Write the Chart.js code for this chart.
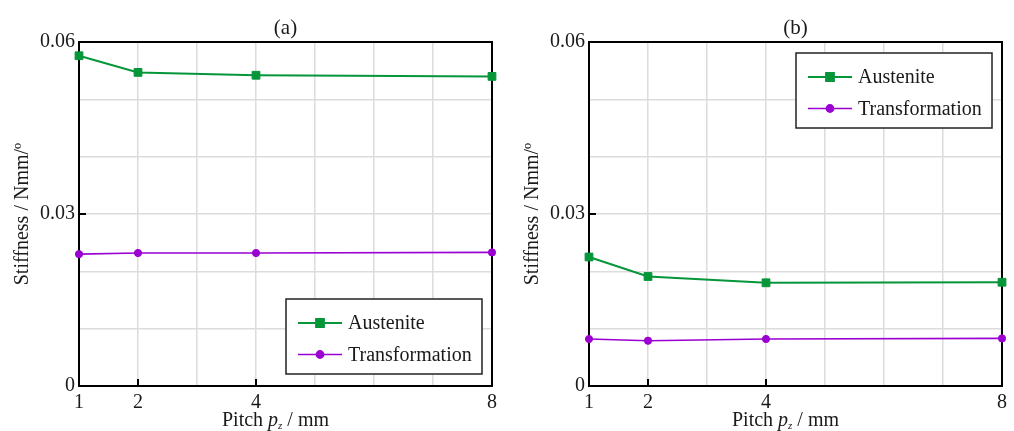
<!DOCTYPE html>
<html>
<head>
<meta charset="utf-8">
<title>Stiffness vs pitch</title>
<script src="https://cdn.jsdelivr.net/npm/chart.js@4.4.1/dist/chart.umd.min.js"></script>
<style>
    html, body { margin: 0; padding: 0; background: #fff; overflow: hidden; }
    .panel { position: absolute; top: 0; width: 510px; height: 431px; }
    #panelA { left: 0; }
    #panelB { left: 510px; }
</style>
</head>
<body>
<div class="panel" id="panelA"><canvas id="chartA" width="510" height="431"></canvas></div>
<div class="panel" id="panelB"><canvas id="chartB" width="510" height="431"></canvas></div>
<script>
// values
const pitch = [1, 2, 4, 8];
const austeniteA      = [0.0576, 0.0547, 0.0542, 0.0540];
const transformationA = [0.0230, 0.0232, 0.0232, 0.0233];
const austeniteB      = [0.0225, 0.0191, 0.0180, 0.0181];
const transformationB = [0.0082, 0.0079, 0.0082, 0.0083];
const xTickLabels = [1, 2, 4, 8];
const yTickLabels = [0, 0.03, 0.06];
const panelTitles = ["(a)", "(b)"];
const seriesNames = ["Austenite", "Transformation"];
const yTitle = "Stiffness / Nmm/\u00ba";

(function () {
    "use strict";

    const SERIF = "'Liberation Serif', 'Times New Roman', serif";
    const INK = "#1a1a1a";
    const GREEN = "#05963a";
    const PURPLE = "#9b00d3";

    function round2(v) { return Math.round(v * 100) / 100; }

    function points(ys) {
        return pitch.map((x, i) => ({ x, y: ys[i] }));
    }

    // frame around the plot + short inward ticks at labelled values
    const framePlugin = {
        id: "frame",
        beforeDatasetsDraw(chart) {
            const { ctx, chartArea: a, scales } = chart;
            ctx.save();
            ctx.strokeStyle = "#000";
            ctx.lineWidth = 2;
            ctx.strokeRect(a.left, a.top, a.right - a.left, a.bottom - a.top);
            ctx.beginPath();
            yTickLabels.forEach(v => {
                const y = scales.y.getPixelForValue(v);
                ctx.moveTo(a.left, y);
                ctx.lineTo(a.left + 7, y);
            });
            xTickLabels.forEach(v => {
                const x = scales.x.getPixelForValue(v);
                ctx.moveTo(x, a.bottom);
                ctx.lineTo(x, a.bottom - 7);
            });
            ctx.stroke();
            ctx.restore();
        }
    };

    // boxed legend, panel title and the mixed-style x title
    const textPlugin = {
        id: "texts",
        afterDraw(chart, args, opts) {
            const { ctx, chartArea: a } = chart;
            ctx.save();
            ctx.fillStyle = INK;
            ctx.textBaseline = "alphabetic";

            // panel title
            ctx.font = "21px " + SERIF;
            ctx.textAlign = "center";
            ctx.fillText(opts.title, (a.left + a.right) / 2, 34);

            // x title: Pitch p_z / mm
            ctx.textAlign = "left";
            const parts = [
                { t: "Pitch ", f: "20px " + SERIF, dy: 0 },
                { t: "p", f: "italic 20px " + SERIF, dy: 0 },
                { t: "z", f: "italic 11px " + SERIF, dy: 3 },
                { t: " / mm", f: "20px " + SERIF, dy: 0 }
            ];
            let w = 0;
            parts.forEach(p => { ctx.font = p.f; w += ctx.measureText(p.t).width; });
            let x = (a.left + a.right) / 2 - 10 - w / 2;
            const base = 426;
            parts.forEach(p => {
                ctx.font = p.f;
                ctx.fillText(p.t, x, base + p.dy);
                x += ctx.measureText(p.t).width;
            });

            // legend
            const bw = 196, bh = 75;
            const bx = a.right - 10 - bw;
            const by = opts.corner === "top" ? a.top + 11 : a.bottom - 12 - bh;
            ctx.fillStyle = "#fff";
            ctx.fillRect(bx, by, bw, bh);
            ctx.strokeStyle = "#222";
            ctx.lineWidth = 1.5;
            ctx.strokeRect(bx, by, bw, bh);

            chart.data.datasets.forEach((ds, i) => {
                const yy = by + 24 + i * 31.5;
                ctx.strokeStyle = ds.borderColor;
                ctx.fillStyle = ds.backgroundColor;
                ctx.lineWidth = ds.borderWidth;
                ctx.beginPath();
                ctx.moveTo(bx + 12, yy);
                ctx.lineTo(bx + 56, yy);
                ctx.stroke();
                Chart.helpers.drawPoint(ctx, {
                    pointStyle: ds.pointStyle,
                    radius: ds.pointRadius,
                    borderWidth: 1,
                    rotation: 0
                }, bx + 34, yy);
                ctx.fillStyle = INK;
                ctx.font = "20px " + SERIF;
                ctx.textBaseline = "middle";
                ctx.fillText(ds.label, bx + 62, yy + 1);
                ctx.textBaseline = "alphabetic";
            });
            ctx.restore();
        }
    };

    function makeChart(id, aust, trans, title, corner) {
        const ctx = document.getElementById(id).getContext("2d");
        return new Chart(ctx, {
            type: "line",
            data: {
                datasets: [{
                    label: seriesNames[0],
                    data: points(aust),
                    borderColor: GREEN,
                    backgroundColor: GREEN,
                    borderWidth: 2,
                    pointStyle: "rect",
                    pointRadius: 5.5,
                    pointBorderWidth: 1,
                    tension: 0,
                    clip: false
                }, {
                    label: seriesNames[1],
                    data: points(trans),
                    borderColor: PURPLE,
                    backgroundColor: PURPLE,
                    borderWidth: 1.6,
                    pointStyle: "circle",
                    pointRadius: 3.6,
                    pointBorderWidth: 1,
                    tension: 0,
                    clip: false
                }]
            },
            options: {
                responsive: false,
                animation: false,
                events: [],
                layout: { padding: { left: 0, right: 18, top: 42, bottom: 0 } },
                plugins: {
                    legend: { display: false },
                    tooltip: { enabled: false },
                    texts: { title, corner }
                },
                scales: {
                    x: {
                        type: "linear",
                        min: 1,
                        max: 8,
                        afterFit: s => { s.height = 45; },
                        afterBuildTicks: s => {
                            s.ticks = [1, 2, 3, 4, 5, 6, 7, 8].map(v => ({ value: v }));
                        },
                        grid: { color: "#dcdcdc", lineWidth: 1.5, drawTicks: false },
                        border: { display: false },
                        ticks: {
                            padding: 5,
                            color: INK,
                            font: { family: SERIF, size: 20 },
                            maxRotation: 0,
                            autoSkip: false,
                            callback: v => xTickLabels.includes(v) ? String(v) : ""
                        }
                    },
                    y: {
                        type: "linear",
                        min: 0,
                        max: 0.06,
                        afterFit: s => { s.width = 79; },
                        grid: { color: "#dcdcdc", lineWidth: 1.5, drawTicks: false },
                        border: { display: false },
                        title: {
                            display: true,
                            text: yTitle,
                            color: INK,
                            font: { family: SERIF, size: 20 },
                            padding: { top: 11, bottom: 0 }
                        },
                        ticks: {
                            stepSize: 0.01,
                            padding: 4,
                            color: INK,
                            font: { family: SERIF, size: 20 },
                            autoSkip: false,
                            callback: v => {
                                const r = round2(v);
                                return yTickLabels.some(t => Math.abs(t - r) < 1e-9) ? String(r) : "";
                            }
                        }
                    }
                }
            },
            plugins: [framePlugin, textPlugin]
        });
    }

    function init() {
        makeChart("chartA", austeniteA, transformationA, panelTitles[0], "bottom");
        makeChart("chartB", austeniteB, transformationB, panelTitles[1], "top");
    }

    if (document.readyState === "loading") {
        document.addEventListener("DOMContentLoaded", init);
    } else {
        init();
    }
})();
</script>
</body>
</html>
